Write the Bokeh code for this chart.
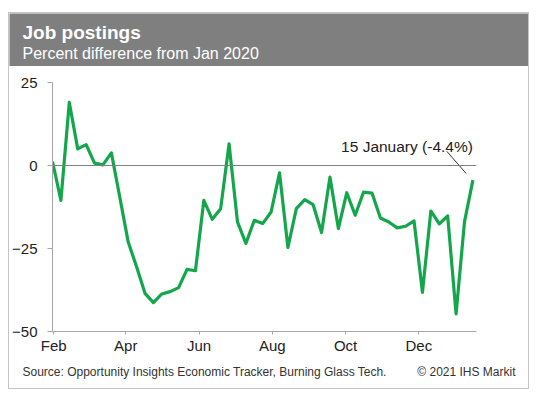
import pandas as pd
from bokeh.plotting import figure
from bokeh.layouts import column, row
from bokeh.models import (Range1d, FixedTicker, DatetimeTickFormatter, Span,
                          Label, ColumnDataSource)
from bokeh.core.properties import value
from bokeh.embed import file_html
from bokeh.resources import INLINE

# ---- data ----
title_text = "Job postings"
subtitle_text = "Percent difference from Jan 2020"
source_text = "Source: Opportunity Insights Economic Tracker, Burning Glass Tech."
copyright_text = "\u00a9 2021 IHS Markit"
annotation_text = "15 January (-4.4%)"

start_date = "2020-01-31"
values = [1.2, -10.5, 19.0, 5.0, 6.3, 0.7, 0.2, 3.8, -9.5, -23.0,
          -30.5, -38.5, -41.3, -38.7, -38.0, -36.8, -31.3, -31.7, -10.5, -16.2,
          -13.0, 6.5, -17.0, -23.5, -16.5, -17.5, -14.0, -2.2, -24.7, -13.0,
          -10.3, -11.8, -20.2, -3.5, -19.0, -8.2, -15.0, -8.0, -8.3, -15.8,
          -17.0, -18.8, -18.3, -16.7, -38.2, -13.7, -17.6, -15.2, -44.7, -17.0,
          -4.4]
tick_months = ["2020-02-01", "2020-04-01", "2020-06-01", "2020-08-01",
               "2020-10-01", "2020-12-01"]
y_ticks = [-50, -25, 0, 25]

dates = pd.date_range(start_date, periods=len(values), freq="7D")
src = ColumnDataSource(dict(x=dates, y=values))

FONT = "Liberation Sans"
GREEN = "#14a64b"
W = 519


def bare(fig):
    fig.axis.visible = False
    fig.grid.visible = False
    fig.outline_line_color = None
    return fig


# ---- header ----
hdr = bare(figure(width=W, height=53, output_backend="svg",
                  toolbar_location=None, min_border=0,
                  x_range=Range1d(0, W), y_range=Range1d(0, 53)))
hdr.background_fill_color = "#7f7f7f"
hdr.border_fill_color = "#7f7f7f"
hdr.text(x=[13], y=[34], text=[title_text], text_font=value(FONT),
         text_font_size=value("19px"), text_font_style="bold",
         text_color="white", text_baseline="middle")
hdr.text(x=[13], y=[13.5], text=[subtitle_text], text_font=value(FONT),
         text_font_size=value("16px"), text_color="white",
         text_baseline="middle")

# ---- main chart ----
p = figure(width=W, height=290, x_axis_type="datetime",
           output_backend="svg", toolbar_location=None,
           min_border_left=41, min_border_right=52,
           min_border_top=16, min_border_bottom=24)
p.x_range = Range1d(dates[0], dates[-1] + pd.Timedelta(days=3))
p.y_range = Range1d(-50, 25)
p.outline_line_color = None
p.xgrid.visible = False
p.ygrid.visible = False

tick_ms = [pd.Timestamp(t).value // 10**6 for t in tick_months]
p.xaxis.ticker = FixedTicker(ticks=tick_ms)
p.xaxis.formatter = DatetimeTickFormatter(months="%b", days="%b", years="%b")
p.yaxis.ticker = FixedTicker(ticks=y_ticks)

for ax in (p.xaxis, p.yaxis):
    ax.axis_line_color = "#a6a6a6"
    ax.major_tick_line_color = "#a6a6a6"
    ax.minor_tick_line_color = None
    ax.major_label_text_font = FONT
    ax.major_label_text_font_size = "15px"
    ax.major_label_text_color = "#222222"
    ax.major_tick_in = 0
p.yaxis.major_tick_out = 5
p.yaxis.major_label_standoff = 10
p.xaxis.major_tick_out = 3
p.xaxis.major_label_standoff = 2

p.add_layout(Span(location=0, dimension="width", line_color="#808080",
                  line_width=1))

p.line("x", "y", source=src, line_color=GREEN, line_width=3.2,
       line_join="round")

last_x = dates[-1]
last_y = values[-1]
p.segment(x0=[last_x - pd.Timedelta(days=21.8)], y0=[last_y + 8.7],
          x1=[last_x - pd.Timedelta(days=5.6)], y1=[last_y + 2.0],
          line_color="#333333", line_width=1)
p.add_layout(Label(x=last_x, y=last_y, y_offset=34, text=annotation_text,
                   text_align="right", text_baseline="alphabetic",
                   text_font=FONT, text_font_size="15.5px",
                   text_color="#222222"))

# ---- footer ----
ftr = bare(figure(width=W, height=32, output_backend="svg",
                  toolbar_location=None, min_border=0,
                  x_range=Range1d(0, W), y_range=Range1d(0, 32)))
ftr.text(x=[13], y=[17], text=[source_text], text_font=value(FONT),
         text_font_size=value("12px"), text_color="#333333",
         text_baseline="middle")
ftr.text(x=[506], y=[17], text=[copyright_text], text_font=value(FONT),
         text_font_size=value("12px"), text_color="#333333",
         text_baseline="middle", text_align="right")

layout = column(row(hdr), row(p), row(ftr), spacing=0,
                styles={"border": "1px solid #c4c4c4",
                        "margin-left": "8px", "margin-top": "12px"})

open("out.html", "w").write(file_html(layout, INLINE))
